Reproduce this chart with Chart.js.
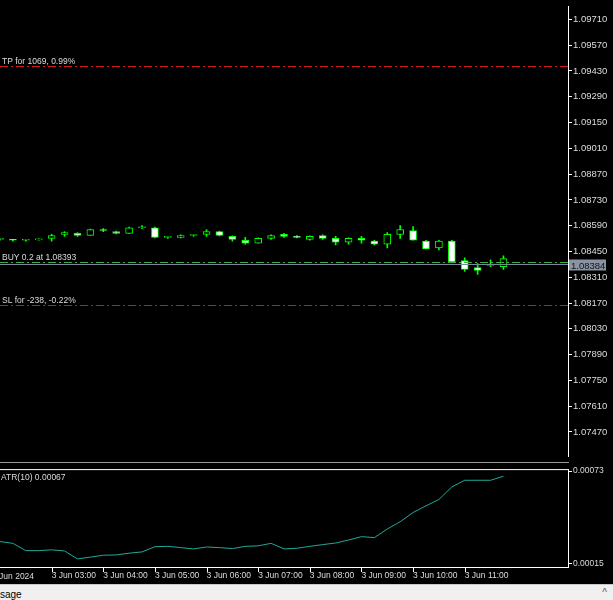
<!DOCTYPE html>
<html>
<head>
<meta charset="utf-8">
<script src="https://cdn.jsdelivr.net/npm/chart.js@4.4.1/dist/chart.umd.min.js"></script>
<style>
  body { margin: 0; background: #000; width: 613px; height: 600px; overflow: hidden; position: relative; font-family: "Liberation Sans", sans-serif; }
  #main { position: absolute; left: 0; top: 0; width: 613px; height: 463px; }
  #atr { position: absolute; left: 0; top: 464px; width: 613px; height: 119px; }
  #sep { position: absolute; left: 0; top: 462px; width: 569px; height: 1px; background: #9a9a9a; }
  #bar { position: absolute; left: 0; top: 584px; width: 613px; height: 16px; background: #f0f0f0; border-top: 1px solid #c8c8c8; font-size: 10px; color: #000; }
</style>
</head>
<body>
<div id="main"><canvas id="c1"></canvas></div>
<div id="sep"></div>
<div id="atr"><canvas id="c2"></canvas></div>
<div id="bar"><span style="position:absolute;left:0;top:4px">sage</span><span style="position:absolute;right:6px;top:2px;color:#555">^</span></div>
<script>
// M15 candles, 3 Jun 2024 02:00 .. 11:45
const times = ["02:00","02:15","02:30","02:45","03:00","03:15","03:30","03:45","04:00","04:15","04:30","04:45",
  "05:00","05:15","05:30","05:45","06:00","06:15","06:30","06:45","07:00","07:15","07:30","07:45",
  "08:00","08:15","08:30","08:45","09:00","09:15","09:30","09:45","10:00","10:15","10:30","10:45",
  "11:00","11:15","11:30","11:45","","","","",""];
const opens  = [1.08516,1.08513,1.08511,1.08513,1.08521,1.08543,1.08548,1.08537,1.08566,1.08558,1.08548,1.08579,
  1.08579,1.08527,1.08527,1.08537,1.08543,1.08558,1.08532,1.08511,1.08495,1.08521,1.08543,1.08532,
  1.08516,1.08537,1.08521,1.08500,1.08521,1.08506,1.08490,1.08543,1.08564,1.08506,1.08469,1.08506,
  1.08400,1.08363,1.08374,1.08368];
const highs  = [1.08521,1.08516,1.08516,1.08519,1.08543,1.08558,1.08553,1.08572,1.08574,1.08561,1.08582,1.08590,
  1.08582,1.08532,1.08540,1.08540,1.08569,1.08561,1.08535,1.08527,1.08524,1.08540,1.08548,1.08537,
  1.08535,1.08540,1.08532,1.08524,1.08532,1.08511,1.08553,1.08590,1.08585,1.08511,1.08511,1.08511,
  1.08416,1.08384,1.08405,1.08426];
const lows   = [1.08511,1.08506,1.08506,1.08511,1.08506,1.08532,1.08532,1.08537,1.08558,1.08545,1.08548,1.08574,
  1.08524,1.08521,1.08524,1.08532,1.08532,1.08535,1.08506,1.08490,1.08495,1.08516,1.08527,1.08524,
  1.08511,1.08516,1.08485,1.08490,1.08495,1.08485,1.08469,1.08521,1.08511,1.08464,1.08458,1.08390,
  1.08342,1.08326,1.08368,1.08353];
const closes = [1.08516,1.08511,1.08513,1.08519,1.08537,1.08553,1.08537,1.08569,1.08564,1.08548,1.08579,1.08579,
  1.08527,1.08527,1.08537,1.08537,1.08558,1.08537,1.08516,1.08495,1.08521,1.08537,1.08532,1.08527,
  1.08532,1.08521,1.08500,1.08521,1.08511,1.08490,1.08543,1.08569,1.08511,1.08464,1.08506,1.08395,
  1.08353,1.08347,1.08374,1.08411];
const atrValues = [0.000286,0.000275,0.000229,0.000229,0.000234,0.000227,0.000177,0.000188,0.000200,0.000202,0.000213,0.000221,
  0.000254,0.000256,0.000248,0.000240,0.000252,0.000248,0.000242,0.000256,0.000259,0.000275,0.000240,0.000244,
  0.000256,0.000267,0.000277,0.000296,0.000317,0.000311,0.000365,0.000411,0.000469,0.000511,0.000551,0.000630,
  0.000672,0.000672,0.000672,0.000697];
const priceTicks = [1.09710,1.09570,1.09430,1.09290,1.09150,1.09010,1.08870,1.08730,1.08590,1.08450,1.08310,
  1.08170,1.08030,1.07890,1.07750,1.07610,1.07470];
const atrTicks = [0.00015, 0.00073];
const levelPrices = [1.09457, 1.08393, 1.08159];
const levelTexts = ["TP for 1069, 0.99%", "BUY 0.2 at 1.08393", "SL for -238, -0.22%"];
const levelColors = ["#d01818", "#3cb043", "#d01818"];
const bidPrice = 1.08384;
const timeLabels = {4:"3 Jun 03:00",8:"3 Jun 04:00",12:"3 Jun 05:00",16:"3 Jun 06:00",20:"3 Jun 07:00",
  24:"3 Jun 08:00",28:"3 Jun 09:00",32:"3 Jun 10:00",36:"3 Jun 11:00"};

const FONT = { family: "Liberation Sans", size: 9.5 };
const SMALL = { family: "Liberation Sans", size: 8.5 };
Chart.defaults.font = FONT;
Chart.defaults.color = "#dcdcdc";
Chart.defaults.animation = false;

const wicks = lows.map((l, i) => [l, highs[i]]);
const bodies = opens.map((o, i) => [o, closes[i]]);
const bodyFill = opens.map((o, i) => closes[i] < opens[i] ? "#ffffff" : "#000000");

const levelsPlugin = {
  id: "levels",
  afterDatasetsDraw(chart) {
    const { ctx, chartArea: a, scales: { y } } = chart;
    ctx.save();
    ctx.font = "8.5px Liberation Sans";
    levelPrices.forEach((p, i) => {
      const py = Math.round(y.getPixelForValue(p)) + 0.5;
      ctx.strokeStyle = levelColors[i];
      ctx.lineWidth = 1;
      ctx.setLineDash([8, 3, 2, 3]);
      ctx.beginPath(); ctx.moveTo(a.left, py); ctx.lineTo(a.right, py); ctx.stroke();
      ctx.fillStyle = "#dcdcdc";
      ctx.fillText(levelTexts[i], 2, py - 3);
    });
    const by = Math.round(y.getPixelForValue(bidPrice)) + 0.5;
    ctx.setLineDash([]);
    ctx.strokeStyle = "#778899";
    ctx.beginPath(); ctx.moveTo(a.left, by); ctx.lineTo(a.right, by); ctx.stroke();
    ctx.fillStyle = "#8a93a3";
    ctx.fillRect(a.right + 1, by - 5, 37, 11);
    ctx.font = "9.5px Liberation Sans";
    ctx.fillStyle = "#111";
    ctx.fillText(bidPrice.toFixed(5), a.right + 3, by + 4);
    ctx.restore();
  }
};

new Chart(document.getElementById("c1"), {
  type: "bar",
  data: {
    labels: times,
    datasets: [
      { data: bodies, backgroundColor: bodyFill, borderColor: "#00ff00", borderWidth: 1,
        borderSkipped: false, barThickness: 7, minBarLength: 1, grouped: false, order: 1 },
      { data: wicks, backgroundColor: "#00ff00", borderWidth: 0, barThickness: 1, grouped: false, order: 2 }
    ]
  },
  options: {
    responsive: true, maintainAspectRatio: false,
    layout: { padding: 0 },
    plugins: { legend: { display: false }, tooltip: { enabled: false } },
    scales: {
      x: { display: false, offset: false },
      y: {
        position: "right", min: 1.07338, max: 1.09779,
        afterFit(s) { s.width = 45; },
        afterBuildTicks(s) { s.ticks = priceTicks.map(v => ({ value: v })); },
        ticks: { callback: v => v.toFixed(5), padding: 1, font: FONT, color: "#dcdcdc" },
        grid: { drawOnChartArea: false, tickLength: 4, color: "#ffffff" },
        border: { color: "#ffffff" }
      }
    }
  },
  plugins: [levelsPlugin]
});

const atrTextPlugin = {
  id: "atrText",
  afterDraw(chart) {
    const { ctx, chartArea: a, scales: { x } } = chart;
    ctx.save();
    ctx.font = "8.5px Liberation Sans";
    ctx.fillStyle = "#dcdcdc";
    ctx.fillText("ATR(10) 0.00067", 1, a.top + 10);
    ctx.fillText("3 Jun 2024", -8, a.bottom + 12);
    ctx.strokeStyle = "#ffffff";
    ctx.strokeRect(-1, a.top - 0.5, a.right + 1.5, a.bottom - a.top + 1);
    // hour tick marks
    ctx.beginPath();
    Object.keys(timeLabels).forEach(k => {
      const px = Math.round(x.getPixelForValue(+k)) + 0.5;
      ctx.moveTo(px, a.bottom); ctx.lineTo(px, a.bottom + 5);
    });
    ctx.stroke();
    ctx.restore();
  }
};

new Chart(document.getElementById("c2"), {
  type: "line",
  data: {
    labels: times,
    datasets: [{ data: atrValues, borderColor: "#20a898", borderWidth: 1, pointRadius: 0, tension: 0 }]
  },
  options: {
    responsive: true, maintainAspectRatio: false,
    layout: { padding: { top: 2, left: 0, right: 0, bottom: 0 } },
    plugins: { legend: { display: false }, tooltip: { enabled: false } },
    scales: {
      x: {
        offset: false,
        afterFit(s) { s.height = 16; },
        ticks: { autoSkip: false, maxRotation: 0, align: "start", padding: 0, font: SMALL,
          callback: (v, i) => timeLabels[i] || null, color: "#dcdcdc" },
        grid: { drawOnChartArea: false, tickLength: 4, color: "transparent" },
        border: { color: "#ffffff" }
      },
      y: {
        position: "right", min: 0.000126, max: 0.000736,
        afterFit(s) { s.width = 45; },
        afterBuildTicks(s) { s.ticks = atrTicks.map(v => ({ value: v })); },
        ticks: { callback: v => v.toFixed(5), padding: 1, font: SMALL, color: "#dcdcdc" },
        grid: { drawOnChartArea: false, tickLength: 4, color: "#ffffff" },
        border: { color: "#ffffff" }
      }
    }
  },
  plugins: [atrTextPlugin]
});
</script>
</body>
</html>
